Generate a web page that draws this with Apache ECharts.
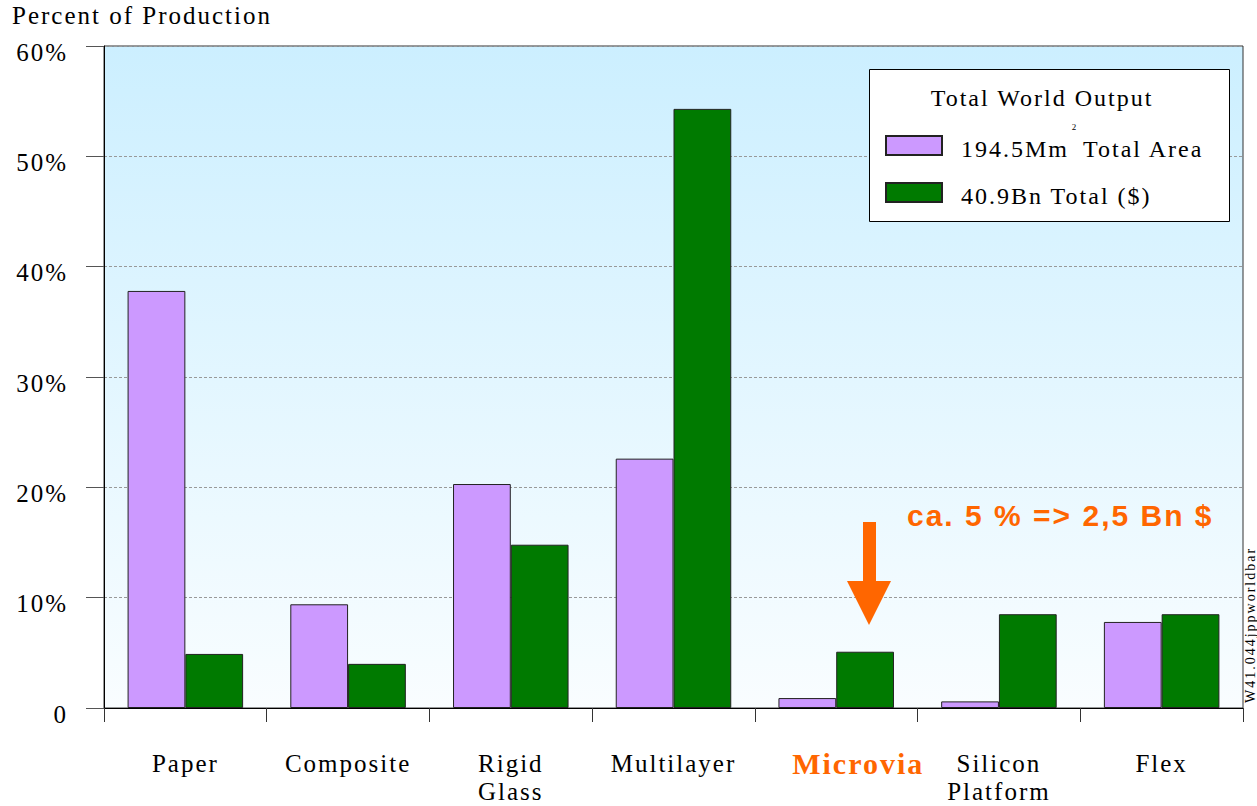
<!DOCTYPE html>
<html>
<head>
<meta charset="utf-8">
<script src="https://cdn.jsdelivr.net/npm/echarts@6/dist/echarts.min.js"></script>
<style>
  html, body { margin: 0; padding: 0; background: #fff; }
  #chart { width: 1257px; height: 806px; }
  #chart text { letter-spacing: 2px; }
</style>
</head>
<body>
<div id="chart"></div>
<script>
// Board technologies along the category axis
const categories = ['Paper', 'Composite', 'Rigid\nGlass', 'Multilayer', 'Microvia', 'Silicon\nPlatform', 'Flex'];
// Share of total world area produced (%)
const areaShare = [37.8, 9.4, 20.3, 22.6, 0.9, 0.6, 7.8];
// Share of total world value produced (%)
const valueShare = [4.9, 4.0, 14.8, 54.3, 5.1, 8.5, 8.5];
// Series names shown in the legend
const seriesNames = ['194.5Mm² Total Area', '40.9Bn Total ($)'];
// Value-axis tick values
const yTicks = [0, 10, 20, 30, 40, 50, 60];

const highlightCategory = 'Microvia';
const serif = '"Liberation Serif", "Times New Roman", serif';
const orange = '#ff6600';

const chart = echarts.init(document.getElementById('chart'), null, { renderer: 'svg' });

// legend label: unit exponent is drawn as a separate small figure above the gap
function legendLabel(name) {
  const i = name.indexOf('²');
  if (i < 0) return '{t|' + name + '}';
  return '{t|' + name.slice(0, i) + '}{u|' + name.slice(i + 1).trim() + '}';
}

const legendText = {
  fontFamily: serif, fontSize: 24, color: '#000', lineHeight: 19,
  padding: [6, 0, 0, 14],
  rich: {
    t: { fontFamily: serif, fontSize: 24, color: '#000', lineHeight: 19 },
    u: { fontFamily: serif, fontSize: 24, color: '#000', lineHeight: 19, padding: [0, 0, 0, 28] }
  }
};

function legendFor(idx, top) {
  return {
    data: [seriesNames[idx]],
    left: 885, top: top,
    padding: 0,
    itemWidth: 56, itemHeight: 19,
    icon: 'rect',
    selectedMode: false,
    z: 4,
    formatter: legendLabel,
    textStyle: legendText
  };
}

chart.setOption({
  animation: false,
  backgroundColor: '#ffffff',
  grid: {
    left: 104, right: 14, top: 46, bottom: 98,
    outerBoundsMode: 'none',
    show: true,
    borderColor: '#333',
    borderWidth: 1,
    backgroundColor: {
      type: 'linear', x: 0, y: 0, x2: 0, y2: 1,
      colorStops: [
        { offset: 0, color: '#ccefff' },
        { offset: 1, color: '#f9fdff' }
      ]
    }
  },
  legend: [legendFor(0, 133), legendFor(1, 180)],
  xAxis: {
    type: 'category',
    data: categories,
    boundaryGap: true,
    axisLine: { lineStyle: { color: '#000', width: 1 } },
    axisTick: { show: true, length: 14, lineStyle: { color: '#333' } },
    axisLabel: {
      interval: 0,
      margin: 41,
      fontFamily: serif, fontSize: 25, color: '#000', lineHeight: 28,
      formatter: function (v) { return v === highlightCategory ? '{hi|' + v + '}' : v; },
      rich: {
        hi: { fontFamily: serif, fontSize: 30, fontWeight: 'bold', color: orange, lineHeight: 28, padding: [0, 0, 0, 44] }
      }
    }
  },
  yAxis: {
    type: 'value',
    min: yTicks[0], max: yTicks[yTicks.length - 1], interval: yTicks[1] - yTicks[0],
    axisLine: { show: true, lineStyle: { color: '#000', width: 1 } },
    axisTick: { show: true, length: 18, lineStyle: { color: '#555' } },
    splitLine: { show: true, lineStyle: { color: '#999', type: [3, 2], width: 1 } },
    axisLabel: {
      margin: 36,
      verticalAlign: 'top',
      lineHeight: 12,
      fontFamily: serif, fontSize: 25, color: '#000',
      formatter: function (v) { return v === 0 ? '0' : v + '%'; }
    }
  },
  series: [
    {
      name: seriesNames[0], type: 'bar', data: areaShare,
      barGap: '0%', barCategoryGap: '29%',
      itemStyle: { color: '#cc99ff', borderColor: '#222', borderWidth: 1 },
      emphasis: { disabled: true }
    },
    {
      name: seriesNames[1], type: 'bar', data: valueShare,
      barGap: '0%', barCategoryGap: '29%',
      itemStyle: { color: '#007a00', borderColor: '#222', borderWidth: 1 },
      emphasis: { disabled: true }
    }
  ],
  graphic: [
    // axis title
    {
      type: 'text', left: 12, top: 3, z: 5,
      style: { text: 'Percent of Production', fontFamily: serif, fontSize: 25, fill: '#000' }
    },
    // legend frame and heading
    {
      type: 'rect', z: 3,
      shape: { x: 869.5, y: 69.5, width: 360, height: 152 },
      style: { fill: '#ffffff', stroke: '#000', lineWidth: 1 }
    },
    {
      type: 'text', x: 1042, y: 98, z: 5,
      style: { text: 'Total World Output', fontFamily: serif, fontSize: 24, fill: '#000', align: 'center', verticalAlign: 'middle' }
    },
    // square-metre exponent of the area total
    {
      type: 'text', x: 1075, y: 127, z: 5,
      style: { text: '2', fontFamily: serif, fontSize: 9, fill: '#000', align: 'center', verticalAlign: 'middle' }
    },
    // callout for the microvia segment
    {
      type: 'polygon', z: 5,
      shape: { points: [[863, 522], [876, 522], [876, 581], [891, 581], [869, 625], [847, 581], [863, 581]] },
      style: { fill: orange }
    },
    {
      type: 'text', x: 907, y: 515, z: 5,
      style: { text: 'ca. 5 % => 2,5 Bn $', fontFamily: '"Liberation Sans", Arial, sans-serif', fontWeight: 'bold', fontSize: 30, fill: orange, align: 'left', verticalAlign: 'middle' }
    },
    // slide reference tag
    {
      type: 'text', x: 1250, y: 625, rotation: Math.PI / 2, z: 5,
      style: { text: 'W41.044jppworldbar', fontFamily: serif, fontSize: 14, fill: '#000', align: 'center', verticalAlign: 'middle' }
    }
  ]
});
</script>
</body>
</html>
